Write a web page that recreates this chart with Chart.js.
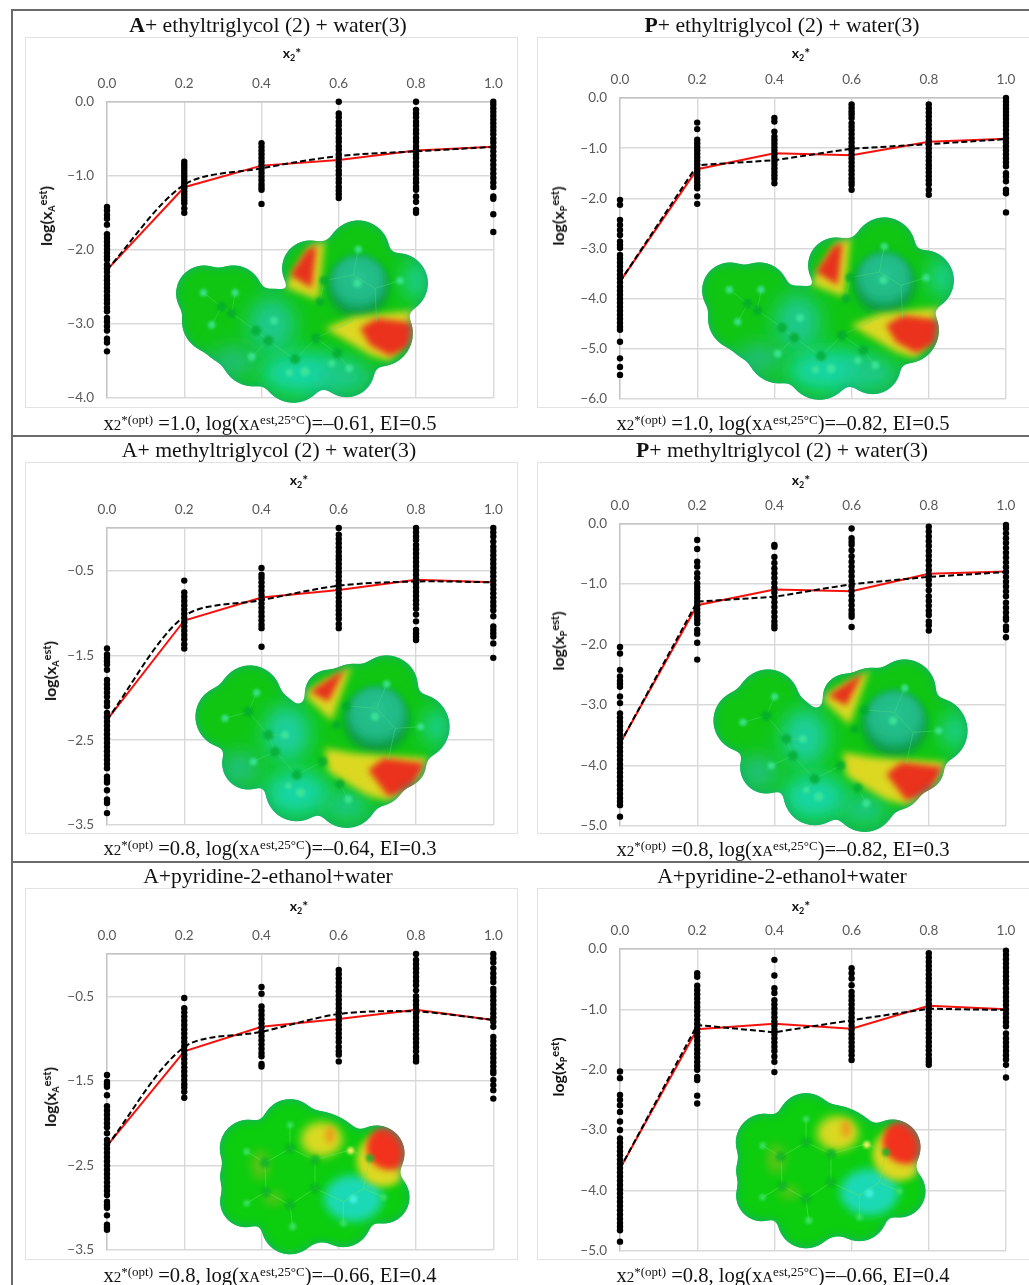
<!DOCTYPE html>
<html>
<head>
<meta charset="utf-8">
<title>Solubility panels</title>
<script src="https://cdn.jsdelivr.net/npm/chart.js@4/dist/chart.umd.min.js"></script>
<style>
  html,body{ margin:0; padding:0; background:#fff; }
  #page{ position:relative; width:1029px; height:1285px; overflow:hidden; background:#fff; }
  .rule{ position:absolute; background:#6a6a6a; }
  .box{ position:absolute; box-sizing:border-box; border:1.5px solid #e2e2e2; }
  canvas{ position:absolute; }
  .txt{ position:absolute; white-space:nowrap; transform:translate(-50%,-50%); line-height:1; }
  .title{ font-family:"Liberation Serif",serif; color:#111; font-size:21.7px; }
  .caption{ font-family:"Liberation Serif",serif; color:#111; font-size:20.6px; }
  .caption small{ font-size:15px; }
  .caption sup{ font-size:13px; line-height:0; vertical-align:6px; }
  .xname,.yname{ font-family:Lato,sans-serif; font-weight:700; color:#111; font-size:14px; }
  .xname sub,.yname sub{ font-size:9px; line-height:0; vertical-align:-3px; }
  .xname sup,.yname sup{ font-size:11px; line-height:0; vertical-align:5px; }
  .yname{ font-size:16px; transform:translate(-50%,-50%) rotate(-90deg); }
  #mols{ position:absolute; left:0; top:0; }
</style>
</head>
<body>
<div id="page">
  <div class="rule" style="left:11px;top:10px;width:2px;height:1275px"></div>
  <div class="rule" style="left:11px;top:9px;width:1018px;height:2px"></div>
  <div class="rule" style="left:11px;top:435px;width:1018px;height:2px"></div>
  <div class="rule" style="left:11px;top:861px;width:1018px;height:2px"></div>
</div>

<script>
/* ---- shared axis values ---- */
const xTicks = [0, 0.2, 0.4, 0.6, 0.8, 1];
const yTicksA = [0, -1, -2, -3, -4];
const yTicksP6 = [0, -1, -2, -3, -4, -5, -6];
const yTicksHalf = [0, -0.5, -1.5, -2.5, -3.5];
const yTicksP5 = [0, -1, -2, -3, -4, -5];

/* ---- panel 1: A + ethyltriglycol ---- */
const p1Red = [-2.27, -1.155, -0.863, -0.787, -0.66, -0.607];
const p1Fit = [-2.27, -1.12, -0.90, -0.733, -0.67, -0.61];
const p1x0 = [-1.42,-1.47,-1.53,-1.58,-1.66,-1.79,-1.84,-1.89,-1.94,-1.99,-2.04,-2.09,-2.13,-2.2,-2.25,-2.3,-2.36,-2.41,-2.46,-2.51,-2.56,-2.62,-2.67,-2.72,-2.78,-2.83,-2.92,-2.97,-3.03,-3.09,-3.2,-3.25,-3.37];
const p1x2 = [-0.81,-0.85,-0.89,-0.93,-0.97,-1.01,-1.05,-1.09,-1.13,-1.17,-1.21,-1.25,-1.29,-1.33,-1.37,-1.44,-1.5];
const p1x4 = [-0.56,-0.61,-0.66,-0.71,-0.76,-0.81,-0.86,-0.91,-0.96,-1.01,-1.06,-1.11,-1.15,-1.19,-1.38];
const p1x6 = [0,-0.16,-0.21,-0.27,-0.32,-0.38,-0.43,-0.49,-0.54,-0.6,-0.65,-0.71,-0.76,-0.82,-0.87,-0.93,-0.98,-1.04,-1.09,-1.15,-1.2,-1.25,-1.3];
const p1x8 = [0,-0.11,-0.16,-0.21,-0.27,-0.32,-0.38,-0.43,-0.49,-0.54,-0.6,-0.65,-0.71,-0.76,-0.82,-0.87,-0.93,-0.98,-1.04,-1.09,-1.15,-1.19,-1.28,-1.35,-1.46,-1.5];
const p1x10 = [0,-0.04,-0.09,-0.14,-0.19,-0.24,-0.29,-0.34,-0.39,-0.44,-0.5,-0.55,-0.61,-0.67,-0.73,-0.79,-0.85,-0.91,-0.97,-1.03,-1.09,-1.15,-1.28,-1.31,-1.52,-1.76];

/* ---- panel 2: P + ethyltriglycol ---- */
const p2Red = [-3.66, -1.42, -1.10, -1.14, -0.87, -0.81];
const p2Fit = [-3.66, -1.34, -1.24, -1.01, -0.92, -0.82];
const p2x0 = [-2.03,-2.13,-2.43,-2.53,-2.63,-2.73,-2.86,-2.93,-2.99,-3.13,-3.2,-3.28,-3.36,-3.44,-3.52,-3.6,-3.68,-3.76,-3.84,-3.92,-4.0,-4.08,-4.16,-4.24,-4.32,-4.4,-4.48,-4.56,-4.62,-4.86,-5.19,-5.36,-5.52];
const p2x2 = [-0.49,-0.62,-0.83,-0.9,-0.97,-1.04,-1.11,-1.18,-1.25,-1.32,-1.39,-1.46,-1.53,-1.6,-1.67,-1.74,-1.8,-1.96,-2.11];
const p2x4 = [-0.4,-0.47,-0.67,-0.77,-0.84,-0.91,-0.98,-1.05,-1.12,-1.19,-1.26,-1.33,-1.4,-1.47,-1.54,-1.61,-1.7];
const p2x6 = [-0.13,-0.2,-0.27,-0.33,-0.4,-0.5,-0.57,-0.64,-0.72,-0.8,-0.88,-0.96,-1.04,-1.12,-1.2,-1.28,-1.36,-1.44,-1.52,-1.6,-1.67,-1.73,-1.83];
const p2x8 = [-0.13,-0.21,-0.29,-0.37,-0.45,-0.53,-0.61,-0.69,-0.77,-0.85,-0.93,-1.01,-1.09,-1.17,-1.25,-1.33,-1.4,-1.48,-1.56,-1.64,-1.72,-1.83,-1.93];
const p2x10 = [0,-0.07,-0.14,-0.21,-0.28,-0.35,-0.42,-0.49,-0.56,-0.64,-0.72,-0.8,-0.88,-0.96,-1.04,-1.12,-1.2,-1.28,-1.36,-1.5,-1.57,-1.66,-1.83,-1.9,-2.28];

/* ---- panel 3: A + methyltriglycol ---- */
const p3Red = [-2.26, -1.09, -0.82, -0.73, -0.61, -0.64];
const p3Fit = [-2.26, -1.04, -0.85, -0.68, -0.63, -0.64];
const p3x0 = [-1.42,-1.49,-1.53,-1.57,-1.61,-1.67,-1.79,-1.84,-1.89,-1.94,-1.99,-2.05,-2.1,-2.18,-2.23,-2.28,-2.33,-2.38,-2.43,-2.48,-2.53,-2.58,-2.63,-2.68,-2.73,-2.78,-2.83,-2.93,-2.97,-3.0,-3.09,-3.2,-3.24,-3.36];
const p3x2 = [-0.62,-0.76,-0.81,-0.86,-0.91,-0.96,-1.01,-1.06,-1.11,-1.16,-1.21,-1.26,-1.31,-1.37,-1.42];
const p3x4 = [-0.47,-0.55,-0.59,-0.64,-0.69,-0.74,-0.79,-0.84,-0.89,-0.94,-0.99,-1.04,-1.09,-1.14,-1.18,-1.40];
const p3x6 = [0,-0.08,-0.13,-0.18,-0.23,-0.28,-0.33,-0.37,-0.42,-0.47,-0.52,-0.57,-0.62,-0.67,-0.72,-0.77,-0.82,-0.87,-0.92,-0.97,-1.02,-1.07,-1.13,-1.18];
const p3x8 = [0,-0.05,-0.1,-0.14,-0.2,-0.25,-0.3,-0.35,-0.4,-0.45,-0.5,-0.55,-0.6,-0.65,-0.7,-0.75,-0.8,-0.85,-0.9,-0.95,-1.02,-1.1,-1.2,-1.24,-1.28,-1.32];
const p3x10 = [0,-0.05,-0.1,-0.16,-0.22,-0.27,-0.32,-0.37,-0.42,-0.47,-0.52,-0.57,-0.62,-0.67,-0.72,-0.77,-0.82,-0.87,-0.92,-0.97,-1.04,-1.16,-1.2,-1.24,-1.28,-1.36,-1.53];

/* ---- panel 4: P + methyltriglycol ---- */
const p4Red = [-3.64, -1.35, -1.09, -1.12, -0.83, -0.79];
const p4Fit = [-3.64, -1.29, -1.21, -1.0, -0.88, -0.80];
const p4x0 = [-2.04,-2.15,-2.42,-2.53,-2.6,-2.65,-2.7,-2.86,-2.97,-3.14,-3.21,-3.28,-3.35,-3.42,-3.49,-3.56,-3.63,-3.7,-3.77,-3.84,-3.91,-3.98,-4.05,-4.12,-4.19,-4.26,-4.33,-4.4,-4.47,-4.54,-4.6,-4.66,-4.85];
const p4x2 = [-0.27,-0.42,-0.63,-0.71,-0.82,-0.9,-0.99,-1.05,-1.11,-1.17,-1.23,-1.29,-1.35,-1.41,-1.47,-1.53,-1.59,-1.65,-1.76,-1.82,-1.97,-2.25];
const p4x4 = [-0.35,-0.38,-0.55,-0.65,-0.74,-0.82,-0.9,-0.98,-1.06,-1.14,-1.22,-1.3,-1.38,-1.46,-1.54,-1.62,-1.68,-1.73];
const p4x6 = [-0.08,-0.24,-0.3,-0.35,-0.44,-0.54,-0.63,-0.71,-0.79,-0.87,-0.95,-1.03,-1.11,-1.19,-1.27,-1.35,-1.43,-1.49,-1.54,-1.71];
const p4x8 = [-0.05,-0.13,-0.21,-0.29,-0.37,-0.45,-0.53,-0.61,-0.69,-0.77,-0.85,-0.93,-1.01,-1.1,-1.2,-1.28,-1.36,-1.44,-1.51,-1.62,-1.68,-1.77];
const p4x10 = [-0.02,-0.08,-0.16,-0.24,-0.32,-0.4,-0.48,-0.56,-0.64,-0.72,-0.8,-0.88,-0.96,-1.04,-1.12,-1.2,-1.31,-1.39,-1.47,-1.55,-1.59,-1.7,-1.76,-1.88];

/* ---- panel 5: A + pyridine-2-ethanol ---- */
const p5Red = [-2.27, -1.15, -0.86, -0.77, -0.66, -0.78];
const p5Fit = [-2.27, -1.10, -0.92, -0.71, -0.68, -0.78];
const p5x0 = [-1.43,-1.51,-1.54,-1.57,-1.67,-1.8,-1.85,-1.9,-1.95,-2.0,-2.05,-2.12,-2.2,-2.25,-2.3,-2.35,-2.4,-2.45,-2.5,-2.55,-2.6,-2.65,-2.7,-2.75,-2.8,-2.85,-2.93,-2.97,-3.0,-3.09,-3.2,-3.23,-3.26];
const p5x2 = [-0.52,-0.64,-0.69,-0.74,-0.79,-0.84,-0.89,-0.94,-0.99,-1.04,-1.09,-1.14,-1.19,-1.24,-1.29,-1.34,-1.39,-1.44,-1.49,-1.54,-1.58,-1.63,-1.7];
const p5x4 = [-0.39,-0.47,-0.62,-0.67,-0.72,-0.77,-0.82,-0.87,-0.92,-0.97,-1.02,-1.07,-1.12,-1.17,-1.21,-1.3,-1.33];
const p5x6 = [-0.19,-0.24,-0.29,-0.34,-0.39,-0.44,-0.49,-0.54,-0.59,-0.64,-0.69,-0.74,-0.79,-0.84,-0.89,-0.94,-0.99,-1.04,-1.1,-1.15,-1.19,-1.27];
const p5x8 = [0,-0.07,-0.12,-0.17,-0.22,-0.27,-0.32,-0.37,-0.43,-0.5,-0.55,-0.6,-0.65,-0.7,-0.75,-0.8,-0.85,-0.9,-0.95,-1.0,-1.05,-1.1,-1.15,-1.21,-1.24,-1.27];
const p5x10 = [0,-0.05,-0.1,-0.17,-0.23,-0.28,-0.33,-0.41,-0.45,-0.5,-0.55,-0.6,-0.65,-0.7,-0.75,-0.8,-0.86,-0.98,-1.03,-1.08,-1.13,-1.18,-1.23,-1.28,-1.33,-1.38,-1.41,-1.49,-1.55,-1.61,-1.71];

/* ---- panel 6: P + pyridine-2-ethanol ---- */
const p6Red = [-3.64, -1.33, -1.24, -1.32, -0.94, -1.0];
const p6Fit = [-3.64, -1.26, -1.38, -1.18, -0.99, -1.01];
const p6x0 = [-2.03,-2.14,-2.42,-2.5,-2.59,-2.7,-2.86,-3.0,-3.14,-3.21,-3.28,-3.35,-3.42,-3.49,-3.56,-3.63,-3.7,-3.77,-3.84,-3.91,-3.98,-4.05,-4.12,-4.19,-4.26,-4.33,-4.4,-4.47,-4.54,-4.6,-4.66,-4.85];
const p6x2 = [-0.4,-0.46,-0.61,-0.68,-0.75,-0.82,-0.89,-0.96,-1.03,-1.1,-1.17,-1.24,-1.31,-1.38,-1.45,-1.52,-1.59,-1.66,-1.73,-1.8,-1.87,-1.94,-2.0,-2.12,-2.17,-2.43,-2.56];
const p6x4 = [-0.18,-0.44,-0.65,-0.73,-0.85,-0.92,-0.99,-1.06,-1.13,-1.2,-1.27,-1.34,-1.41,-1.48,-1.55,-1.62,-1.69,-1.78,-1.87,-2.04];
const p6x6 = [-0.32,-0.4,-0.49,-0.6,-0.71,-0.78,-0.85,-0.92,-0.99,-1.06,-1.13,-1.2,-1.27,-1.34,-1.41,-1.48,-1.55,-1.62,-1.69,-1.76,-1.84];
const p6x8 = [-0.07,-0.14,-0.21,-0.28,-0.35,-0.42,-0.49,-0.56,-0.63,-0.7,-0.77,-0.84,-0.91,-0.98,-1.05,-1.12,-1.19,-1.26,-1.33,-1.4,-1.47,-1.54,-1.61,-1.68,-1.75,-1.82,-1.87,-1.92];
const p6x10 = [-0.03,-0.1,-0.17,-0.24,-0.31,-0.38,-0.45,-0.52,-0.57,-0.65,-0.72,-0.79,-0.86,-0.93,-1.0,-1.07,-1.14,-1.21,-1.28,-1.4,-1.48,-1.55,-1.62,-1.69,-1.76,-1.83,-1.92,-2.13];

/* ---- texts ---- */
const titles = [
  '<b>A</b>+ ethyltriglycol (2) + water(3)', '<b>P</b>+ ethyltriglycol (2) + water(3)',
  'A+ methyltriglycol (2) + water(3)', '<b>P</b>+ methyltriglycol (2) + water(3)',
  'A+pyridine-2-ethanol+water', 'A+pyridine-2-ethanol+water'
];
const optX = ['1.0', '1.0', '0.8', '0.8', '0.8', '0.8'];
const optLog = ['0.61', '0.82', '0.64', '0.82', '0.66', '0.66'];
const optEI = ['0.5', '0.5', '0.3', '0.3', '0.4', '0.4'];
const soluteSub = ['A', 'P', 'A', 'P', 'A', 'P'];

/* ---- page layout of each panel (pixels) ---- */
const layouts = [
  { box:[25,37,518,408],  plot:[107,101.7,493.3,398],  ymin:-4, yt:yTicksA,    titleAt:[268,26],  capAt:[270,423],  xnameAt:[292,53],  ynameAt:[46,216] },
  { box:[537,37,1060,408],plot:[620,98,1006,399],      ymin:-6, yt:yTicksP6,   titleAt:[782,26],  capAt:[783,423],  xnameAt:[801,53],  ynameAt:[558,216] },
  { box:[25,462,518,834], plot:[107,528,493.3,825],    ymin:-3.5,yt:yTicksHalf,titleAt:[269,451], capAt:[270,848],  xnameAt:[299,480], ynameAt:[50,671] },
  { box:[537,462,1060,834],plot:[620,523.7,1006,825.7],ymin:-5, yt:yTicksP5,   titleAt:[782,451], capAt:[783,849],  xnameAt:[801,480], ynameAt:[558,641] },
  { box:[25,888,518,1260],plot:[107,954,493.3,1250],   ymin:-3.5,yt:yTicksHalf,titleAt:[268,877], capAt:[270,1275], xnameAt:[299,906], ynameAt:[50,1097] },
  { box:[537,888,1060,1260],plot:[620,949,1006,1250.7],ymin:-5, yt:yTicksP5,   titleAt:[782,877], capAt:[783,1275], xnameAt:[801,906], ynameAt:[558,1067] }
];

const panelData = [
  { red:p1Red, fit:p1Fit, cols:[p1x0,p1x2,p1x4,p1x6,p1x8,p1x10], smooth:0.3 },
  { red:p2Red, fit:p2Fit, cols:[p2x0,p2x2,p2x4,p2x6,p2x8,p2x10], smooth:0 },
  { red:p3Red, fit:p3Fit, cols:[p3x0,p3x2,p3x4,p3x6,p3x8,p3x10], smooth:0.3 },
  { red:p4Red, fit:p4Fit, cols:[p4x0,p4x2,p4x4,p4x6,p4x8,p4x10], smooth:0 },
  { red:p5Red, fit:p5Fit, cols:[p5x0,p5x2,p5x4,p5x6,p5x8,p5x10], smooth:0.3 },
  { red:p6Red, fit:p6Fit, cols:[p6x0,p6x2,p6x4,p6x6,p6x8,p6x10], smooth:0 }
];

const page = document.getElementById('page');
// canvas runs past the box bottom so the y tick padding can't eat into the plot height
const CANVAS_EXTRA = 60;

function addText(cls, html, at){
  const el = document.createElement('div');
  el.className = 'txt ' + cls;
  el.innerHTML = html;
  el.style.left = at[0] + 'px';
  el.style.top = at[1] + 'px';
  page.appendChild(el);
}

function fmtTick(v){
  return (v < 0 ? '\u2212' : '') + Math.abs(v).toFixed(1);
}

function makePanel(i){
  const lay = layouts[i], d = panelData[i];
  const [bl, bt, br, bb] = lay.box;
  const [pl, pt, pr, pb] = lay.plot;

  const box = document.createElement('div');
  box.className = 'box';
  box.style.cssText = `left:${bl}px;top:${bt}px;width:${br-bl}px;height:${bb-bt}px`;
  page.appendChild(box);

  const canvas = document.createElement('canvas');
  canvas.width = br - bl;
  canvas.height = bb - bt + CANVAS_EXTRA;
  canvas.style.left = bl + 'px';
  canvas.style.top = bt + 'px';
  page.appendChild(canvas);

  const dots = [];
  d.cols.forEach((col, k) => col.forEach(v => dots.push({ x:xTicks[k], y:v })));

  new Chart(canvas, {
    type:'scatter',
    data:{
      datasets:[
        { data:xTicks.map((x,k) => ({ x, y:d.red[k] })), showLine:true, borderColor:'#f5120c', borderWidth:2,
          pointRadius:0, order:3, clip:false },
        { data:xTicks.map((x,k) => ({ x, y:d.fit[k] })), showLine:true, borderColor:'#000', borderWidth:2,
          borderDash:[6,3], tension:d.smooth, pointRadius:0, order:2, clip:false },
        { data:dots, showLine:false, pointRadius:3.2, pointBackgroundColor:'#000', pointBorderWidth:0, order:1, clip:false }
      ]
    },
    options:{
      responsive:false,
      animation:false,
      events:[],
      layout:{ padding:{ left:0, top:0, right:br-pr, bottom:bb-pb+CANVAS_EXTRA } },
      plugins:{ legend:{ display:false }, tooltip:{ enabled:false } },
      scales:{
        x:{
          type:'linear', position:'top', min:0, max:1,
          afterFit(s){ s.height = pt - bt; },
          afterBuildTicks(s){ s.ticks = xTicks.map(v => ({ value:v })); },
          grid:{ color:'#d9d9d9', lineWidth:1.4, drawTicks:false },
          border:{ color:'#c4c4c4', width:1.4 },
          ticks:{ color:'#595959', font:{ family:'Lato', size:13.5 }, padding:10, maxRotation:0, autoSkip:false,
            callback:v => v.toFixed(1) }
        },
        y:{
          type:'linear', min:lay.ymin, max:0,
          afterFit(s){ s.width = pl - bl; },
          afterBuildTicks(s){ s.ticks = lay.yt.map(v => ({ value:v })); },
          grid:{ color:'#d9d9d9', lineWidth:1.4, drawTicks:false },
          border:{ color:'#c4c4c4', width:1.4 },
          ticks:{ color:'#595959', font:{ family:'Lato', size:13.5 }, padding:13, autoSkip:false,
            // half-step axes have no label on the top line
            callback:v => (v === 0 && lay.yt === yTicksHalf) ? '' : fmtTick(v) }
        }
      }
    }
  });

  addText('title', titles[i], lay.titleAt);
  addText('caption',
    `x<small>2</small><sup>*(opt)</sup> =${optX[i]}, log(x<small>A</small><sup>est,25\u00B0C</sup>)=\u2013${optLog[i]}, EI=${optEI[i]}`,
    lay.capAt);
  addText('xname', 'x<sub>2</sub>*', lay.xnameAt);
  addText('yname', `log(x<sub>${soluteSub[i]}</sub><sup>est</sup>)`, lay.ynameAt);
}

for(let i=0;i<6;i++) makePanel(i);
</script>

<!-- electrostatic potential surfaces: picture decoration over the plots, 3 units = 1px -->
<svg id="mols" width="1029" height="1285" viewBox="0 0 3087 3855" xmlns="http://www.w3.org/2000/svg" style="pointer-events:none">
  <defs>
    <filter id="inner" x="-10%" y="-10%" width="120%" height="120%" color-interpolation-filters="sRGB">
      <feFlood flood-color="#16a884" result="c"/>
      <feComposite in="c" in2="SourceAlpha" operator="out" result="o"/>
      <feGaussianBlur in="o" stdDeviation="15" result="b"/>
      <feComposite in="b" in2="SourceAlpha" operator="in" result="s"/>
      <feMerge><feMergeNode in="SourceGraphic"/><feMergeNode in="s"/></feMerge>
    </filter>
    <filter id="goo" x="-15%" y="-15%" width="130%" height="130%" color-interpolation-filters="sRGB">
      <feGaussianBlur stdDeviation="15"/>
      <feColorMatrix values="1 0 0 0 0  0 1 0 0 0  0 0 1 0 0  0 0 0 14 -6.5"/>
    </filter>
    <filter id="b30" x="-60%" y="-60%" width="220%" height="220%"><feGaussianBlur stdDeviation="30"/></filter>
    <filter id="b14" x="-50%" y="-50%" width="200%" height="200%"><feGaussianBlur stdDeviation="14"/></filter>
    <filter id="b11" x="-50%" y="-50%" width="200%" height="200%"><feGaussianBlur stdDeviation="11"/></filter>
    <filter id="b8" x="-50%" y="-50%" width="200%" height="200%"><feGaussianBlur stdDeviation="9"/></filter>
    <filter id="b4" x="-50%" y="-50%" width="200%" height="200%"><feGaussianBlur stdDeviation="4"/></filter>
    <radialGradient id="ball" cx="50%" cy="40%" r="60%">
      <stop offset="0" stop-color="#27c48f"/><stop offset="0.7" stop-color="#1fb884"/><stop offset="1" stop-color="#0c9c4a"/>
    </radialGradient>

    <mask id="m1" maskUnits="userSpaceOnUse" x="400" y="560" width="1000" height="740">
      <g fill="#fff" filter="url(#goo)">
        <circle cx="612" cy="880" r="85"/><circle cx="700" cy="885" r="90"/><circle cx="640" cy="965" r="95"/>
        <circle cx="690" cy="1005" r="90"/><circle cx="820" cy="965" r="100"/><circle cx="760" cy="1060" r="100"/>
        <circle cx="880" cy="1113" r="97"/><circle cx="1040" cy="1108" r="85"/><circle cx="1000" cy="1050" r="120"/>
        <circle cx="1140" cy="1000" r="100"/><circle cx="1193" cy="850" r="92"/><circle cx="1075" cy="755" r="95"/>
        <circle cx="1000" cy="830" r="110"/><circle cx="930" cy="805" r="85"/><circle cx="1000" cy="950" r="150"/>
      </g>
    </mask>
    <mask id="m2" maskUnits="userSpaceOnUse" x="460" y="560" width="1000" height="740">
      <g fill="#fff" filter="url(#goo)">
        <circle cx="750" cy="800" r="95"/><circle cx="680" cy="860" r="95"/><circle cx="800" cy="890" r="110"/>
        <circle cx="855" cy="910" r="80"/><circle cx="745" cy="1000" r="80"/><circle cx="890" cy="1080" r="95"/>
        <circle cx="1040" cy="1100" r="95"/><circle cx="1130" cy="1040" r="90"/><circle cx="1205" cy="1000" r="75"/>
        <circle cx="1250" cy="890" r="100"/><circle cx="1160" cy="770" r="95"/><circle cx="1060" cy="800" r="100"/>
        <circle cx="985" cy="790" r="72"/><circle cx="1000" cy="950" r="160"/>
      </g>
    </mask>
    <mask id="m3" maskUnits="userSpaceOnUse" x="560" y="620" width="780" height="640">
      <g fill="#fff" filter="url(#goo)">
        <circle cx="870" cy="803" r="87"/><circle cx="745" cy="865" r="87"/><circle cx="737" cy="1025" r="78"/>
        <circle cx="735" cy="950" r="76"/><circle cx="870" cy="1097" r="87"/><circle cx="1030" cy="1078" r="85"/>
        <circle cx="1150" cy="1012" r="80"/><circle cx="1130" cy="880" r="85"/><circle cx="990" cy="870" r="75"/>
        <circle cx="930" cy="950" r="200"/><circle cx="1070" cy="950" r="130"/>
      </g>
    </mask>

    <g id="mol1">
      <g filter="url(#inner)"><g mask="url(#m1)">
        <rect x="400" y="560" width="1000" height="740" fill="#10c612"/>
        <ellipse cx="815" cy="975" rx="70" ry="85" fill="#1fc98c" filter="url(#b30)"/>
        <ellipse cx="910" cy="1120" rx="130" ry="65" fill="#19d5a5" filter="url(#b30)"/>
        <ellipse cx="700" cy="1085" rx="70" ry="45" fill="#22bf7c" filter="url(#b30)"/>
        <ellipse cx="1040" cy="1130" rx="80" ry="50" fill="#1fc889" filter="url(#b30)"/>
        <ellipse cx="1250" cy="840" rx="40" ry="60" fill="#1fd09a" filter="url(#b30)"/>
        <circle cx="1075" cy="862" r="90" fill="#0a9a3e" filter="url(#b14)"/>
        <circle cx="1075" cy="850" r="84" fill="url(#ball)" filter="url(#b8)"/>
        <polygon points="850,860 930,735 975,715 955,900" fill="#dad920" filter="url(#b11)"/>
        <polygon points="870,825 920,750 950,735 935,865" fill="#e6321a" filter="url(#b8)"/>
        <polygon points="975,985 1060,950 1250,930 1250,990 1170,1085 1110,1065" fill="#dcd820" filter="url(#b11)"/>
        <polygon points="1080,985 1130,955 1250,970 1230,1040 1170,1068 1110,1035" fill="#ea301a" filter="url(#b8)"/>
        <g stroke="#4fe07a" stroke-width="3" fill="none" opacity="0.4">
          <path d="M610 878L665 920L695 940L768 992L805 1022L885 1078L948 1015L1012 1060M705 878L695 940M635 975L665 920M755 1070L805 1022M868 1118L885 1078M1012 1060L1048 1105M948 1015L1062 960M972 842L960 905M972 842L1060 825L1125 865L1200 842M1075 748L1060 825M1125 865L1130 965"/>
        </g>
        <g fill="#06a82e" filter="url(#b4)" opacity="0.75">
          <circle cx="768" cy="992" r="15"/><circle cx="805" cy="1022" r="15"/><circle cx="885" cy="1078" r="15"/><circle cx="948" cy="1015" r="15"/><circle cx="1012" cy="1060" r="15"/><circle cx="972" cy="842" r="14"/><circle cx="960" cy="905" r="13"/><circle cx="665" cy="920" r="14"/><circle cx="695" cy="940" r="14"/>
        </g>
        <g fill="#3fe69a" filter="url(#b4)" opacity="0.85">
          <circle cx="610" cy="878" r="11"/><circle cx="705" cy="878" r="11"/><circle cx="635" cy="975" r="11"/><circle cx="822" cy="962" r="12"/><circle cx="755" cy="1070" r="12"/><circle cx="868" cy="1118" r="11"/><circle cx="915" cy="1115" r="14"/><circle cx="995" cy="1090" r="11"/><circle cx="1048" cy="1105" r="12"/><circle cx="1075" cy="748" r="11"/><circle cx="1200" cy="842" r="11"/><circle cx="1072" cy="850" r="12"/>
        </g>
      </g></g>
    </g>

    <g id="mol2">
      <g filter="url(#inner)"><g mask="url(#m2)">
        <rect x="460" y="560" width="1000" height="740" fill="#10c612"/>
        <ellipse cx="860" cy="910" rx="70" ry="85" fill="#1fcf9f" filter="url(#b30)"/>
        <ellipse cx="890" cy="1090" rx="100" ry="70" fill="#19d5a5" filter="url(#b30)"/>
        <ellipse cx="720" cy="1015" rx="60" ry="50" fill="#20c182" filter="url(#b30)"/>
        <ellipse cx="1040" cy="1130" rx="70" ry="45" fill="#1fc889" filter="url(#b30)"/>
        <ellipse cx="1310" cy="890" rx="40" ry="55" fill="#1fd09a" filter="url(#b30)"/>
        <circle cx="1130" cy="872" r="96" fill="#0a9a3e" filter="url(#b14)"/>
        <circle cx="1130" cy="860" r="90" fill="url(#ball)" filter="url(#b8)"/>
        <polygon points="905,790 1055,705 995,872" fill="#dad920" filter="url(#b11)"/>
        <polygon points="930,785 1035,715 985,815" fill="#e6321a" filter="url(#b8)"/>
        <polygon points="975,955 1060,970 1290,985 1245,1075 1170,1115 1100,1095 985,1025" fill="#dcd820" filter="url(#b11)"/>
        <polygon points="1105,1020 1150,985 1275,1000 1235,1080 1165,1100" fill="#ea301a" filter="url(#b8)"/>
        <g stroke="#4fe07a" stroke-width="3" fill="none" opacity="0.4">
          <path d="M675 865L745 845L805 915L825 965L890 1035L968 995M770 788L745 845M855 915L805 915M760 995L825 965M865 1068L890 1035M968 995L1020 1062L1045 1108M1040 828L1130 835L1185 895L1262 890M1160 762L1130 835M1185 895L1165 990"/>
        </g>
        <g fill="#06a82e" filter="url(#b4)" opacity="0.75">
          <circle cx="745" cy="845" r="15"/><circle cx="805" cy="915" r="15"/><circle cx="825" cy="965" r="15"/><circle cx="890" cy="1035" r="15"/><circle cx="968" cy="995" r="14"/><circle cx="1020" cy="1062" r="14"/><circle cx="1040" cy="828" r="14"/><circle cx="1010" cy="885" r="13"/>
        </g>
        <g fill="#3fe69a" filter="url(#b4)" opacity="0.85">
          <circle cx="675" cy="865" r="11"/><circle cx="770" cy="788" r="11"/><circle cx="855" cy="915" r="12"/><circle cx="760" cy="995" r="11"/><circle cx="902" cy="1088" r="14"/><circle cx="865" cy="1068" r="10"/><circle cx="1045" cy="1108" r="12"/><circle cx="1160" cy="762" r="11"/><circle cx="1262" cy="890" r="11"/><circle cx="1125" cy="860" r="12"/>
        </g>
      </g></g>
    </g>

    <g id="mol3">
      <g filter="url(#inner)"><g mask="url(#m3)">
        <rect x="560" y="620" width="780" height="640" fill="#0ccd0e"/>
        <ellipse cx="1060" cy="1015" rx="88" ry="70" fill="#1fd9b5" filter="url(#b14)"/>
        <ellipse cx="780" cy="915" rx="28" ry="45" fill="#55c412" filter="url(#b14)"/>
        <ellipse cx="820" cy="1015" rx="30" ry="20" fill="#55c412" filter="url(#b14)"/>
        <ellipse cx="965" cy="838" rx="62" ry="52" fill="#d9d921" filter="url(#b14)"/>
        <ellipse cx="990" cy="825" rx="14" ry="26" fill="#ee9a1c" filter="url(#b8)"/>
        <ellipse cx="1150" cy="900" rx="80" ry="80" fill="#dcd820" filter="url(#b11)"/>
        <ellipse cx="1170" cy="862" rx="70" ry="68" fill="#f2301a" filter="url(#b8)"/>
        <g stroke="#66ec55" stroke-width="3" fill="none" opacity="0.5">
          <path d="M870 865L945 900L945 985L870 1035L798 995L795 908ZM870 795L870 865M740 875L795 908M740 1030L798 995M878 1100L870 1035M945 900L1050 870L1110 895L1090 985L1030 1025L945 985M1090 985L1150 1012M1030 1025L1030 1090"/>
        </g>
        <g fill="#07b326" filter="url(#b4)" opacity="0.8">
          <circle cx="870" cy="865" r="15"/><circle cx="945" cy="900" r="15"/><circle cx="945" cy="985" r="15"/><circle cx="870" cy="1035" r="15"/><circle cx="798" cy="995" r="15"/><circle cx="795" cy="908" r="15"/><circle cx="1110" cy="895" r="12"/>
        </g>
        <g fill="#3de46c" filter="url(#b4)" opacity="0.85">
          <circle cx="870" cy="795" r="10"/><circle cx="740" cy="875" r="10"/><circle cx="740" cy="1030" r="10"/><circle cx="878" cy="1100" r="11"/><circle cx="1150" cy="1012" r="10"/><circle cx="1030" cy="1090" r="10"/>
        </g>
        <circle cx="1060" cy="1018" r="12" fill="#3cf0dc" filter="url(#b4)"/>
        <circle cx="1052" cy="872" r="10" fill="#f4f060" filter="url(#b4)"/>
      </g></g>
    </g>
  </defs>
  <use href="#mol1"/>
  <use href="#mol1" transform="translate(1578 -9)"/>
  <use href="#mol2" transform="translate(0 1290)"/>
  <use href="#mol2" transform="translate(1554 1302)"/>
  <use href="#mol3" transform="translate(0 2580)"/>
  <use href="#mol3" transform="translate(1548 2562)"/>
</svg>
<script>document.getElementById('page').appendChild(document.getElementById('mols'));</script>
</body>
</html>
